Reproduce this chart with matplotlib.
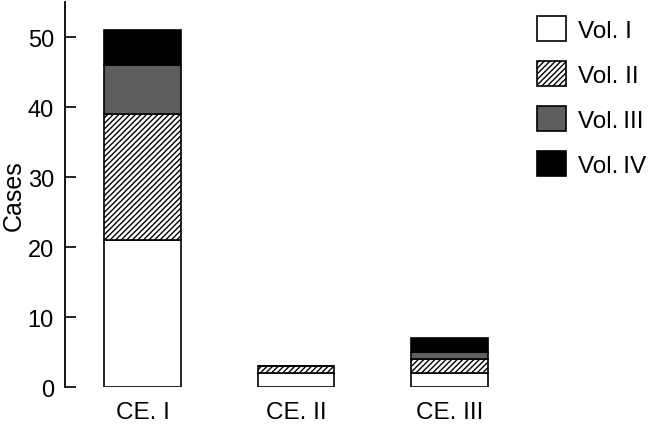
import numpy as np
import matplotlib
matplotlib.use("Agg")
import matplotlib.pyplot as plt

plt.rcParams['font.family'] = ['Liberation Sans', 'DejaVu Sans']
plt.rcParams['hatch.linewidth'] = 1.0

# data
groups = ["CE. I", "CE. II", "CE. III"]
series = ["Vol. I", "Vol. II", "Vol.\u2009III", "Vol.\u2009IV"]
vol1 = [21, 2, 2]
vol2 = [18, 1, 2]
vol3 = [7, 0, 1]
vol4 = [5, 0, 2]

fills = ["white", "white", "#5e5e5e", "black"]
hatches = ["", "//////", "", ""]

fig = plt.figure(figsize=(6.5, 4.27), dpi=100)
ax = fig.add_axes([0.1, 0.0913, 0.9, 0.9016])

x = np.arange(len(groups))
bottom = np.zeros(len(groups))
for vals, fc, h, lab in zip([vol1, vol2, vol3, vol4], fills, hatches, series):
    vals = np.array(vals, dtype=float)
    ax.bar(x, vals, width=0.5, bottom=bottom, color=fc, hatch=h,
           edgecolor="black", linewidth=1.2, label=lab)
    bottom += vals

ax.set_xlim(-0.505, 3.306)
ax.set_ylim(0, 55)
ax.set_yticks([0, 10, 20, 30, 40, 50])
ax.set_xticks(x)
ax.set_xticklabels(groups, fontsize=17.5)
ax.tick_params(axis="x", length=0, pad=10)
ax.tick_params(axis="y", direction="in", length=8, width=1.2, labelsize=17, pad=8)
ax.set_ylabel("Cases", fontsize=18, labelpad=1)

for s in ["top", "right", "bottom"]:
    ax.spines[s].set_visible(False)
ax.spines["left"].set_linewidth(1.3)

ax.legend(loc="upper left", bbox_to_anchor=(537 / 650, 1 - 17 / 427),
          bbox_transform=fig.transFigure, frameon=False, fontsize=17.5,
          handlelength=1.2, handleheight=1.2, handletextpad=0.5,
          labelspacing=0.8, borderpad=0, borderaxespad=0)

fig.savefig("out.png", dpi=100)
